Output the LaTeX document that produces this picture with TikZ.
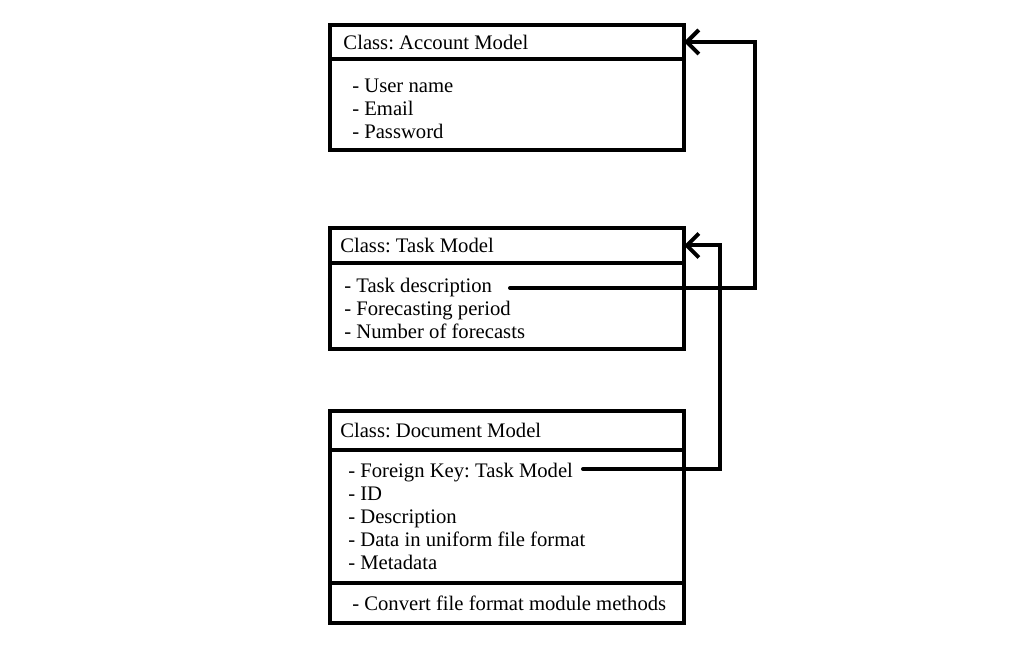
\documentclass[tikz,border=0pt]{standalone}
\usepackage{fontspec}
\setmainfont{Liberation Serif}
\frenchspacing
\usetikzlibrary{positioning,arrows.meta}

\begin{document}
\begin{tikzpicture}[>={Straight Barb[length=0.3cm,width=0.6cm]},
    every node/.style={font=\fontsize{14.7}{16.4}\selectfont},
    box/.style={draw, rectangle, line width=2.85pt, minimum width=8.85cm, inner sep=0pt, outer sep=0pt},
    rowtext/.style={inner sep=0pt, align=left},
    link/.style={line width=2.85pt, line cap=round, ->}]
    \useasboundingbox (0,0) rectangle (25.825,16.25);

    % --- 1. クラスの枠 ---
    \node[box, anchor=north west, minimum height=0.85cm] (acchead) at (8.25, 15.625) {};
    \node[box, below=0pt of acchead, minimum height=2.275cm] (accbody) {};

    \node[box, below=1.95cm of accbody, minimum height=0.875cm] (taskhead) {};
    \node[box, below=0pt of taskhead, minimum height=2.15cm] (taskbody) {};

    \node[box, below=1.55cm of taskbody, minimum height=0.975cm] (dochead) {};
    \node[box, below=0pt of dochead, minimum height=3.325cm] (docbody) {};
    \node[box, below=0pt of docbody, minimum height=1.0cm] (docmeth) {};

    % --- 2. 文字 ---
    \node[rowtext, right=0.33cm of acchead.west] (acctitle) {Class: Account Model};
    \node[rowtext, right=0.55cm of accbody.west, yshift=-0.1cm] (accattr) {- User name\\- Email\\- Password};

    \node[rowtext, right=0.25cm of taskhead.west] (tasktitle) {Class: Task Model};
    \node[rowtext, right=0.35cm of taskbody.west, yshift=-0.05cm] (taskattr) {- Task description\\- Forecasting period\\- Number of forecasts};

    \node[rowtext, right=0.25cm of dochead.west] (doctitle) {Class: Document Model};
    \node[rowtext, right=0.45cm of docbody.west] (docattr) {- Foreign Key: Task Model\\- ID\\- Description\\- Data in uniform file format\\- Metadata};
    \node[rowtext, right=0.55cm of docmeth.west] (docmethods) {- Convert file format module methods};

    % --- 3. 参照の矢印 ---
    \coordinate (tdend) at (12.75, 9.05);   % Task description の後
    \coordinate (fkend) at (14.575, 4.525); % Foreign Key の後
    \coordinate (accrail) at (18.875, 0);
    \coordinate (taskrail) at (18.0, 0);

    \draw[link] (tdend) -- (tdend -| accrail) |- (acchead.east);
    \draw[link] (fkend) -- (fkend -| taskrail) |- (taskhead.east);

  \end{tikzpicture}
\end{document}
